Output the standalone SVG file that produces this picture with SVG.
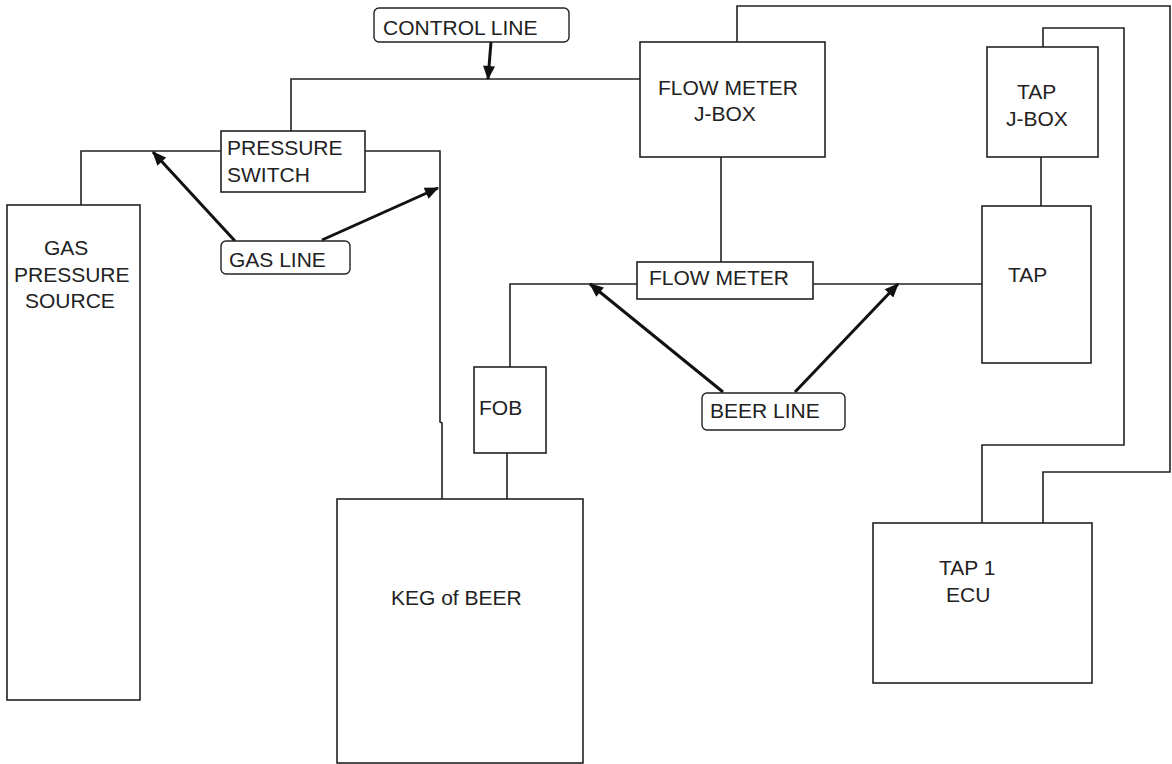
<svg xmlns="http://www.w3.org/2000/svg" width="1172" height="764" viewBox="0 0 1172 764">
<defs>
<style>
.box{fill:#fff;stroke:#222;stroke-width:1.6}
.rbox{fill:#fff;stroke:#222;stroke-width:1.4}
.wire{fill:none;stroke:#222;stroke-width:1.6}
.arr{fill:none;stroke:#111;stroke-width:3;marker-end:url(#ah)}
text{font-family:"Liberation Sans",Arial,sans-serif;font-size:21px;fill:#222}
</style>
<marker id="ah" viewBox="0 0 14 12" refX="13" refY="6" markerWidth="15" markerHeight="12" markerUnits="userSpaceOnUse" orient="auto">
<path d="M0,0 L14,6 L0,12 z" fill="#111"/>
</marker>
</defs>
<rect width="1172" height="764" fill="#fff"/>
<g id="connectors">
<polyline class="wire" points="291,131 291,79 640,79"/>
<polyline class="wire" points="81,205 81,151 221,151"/>
<polyline class="wire" points="365,151 440,151 440,422 442,423 442,499"/>
<polyline class="wire" points="737,42 737,6 1170,6 1170,472 1043,472 1043,523"/>
<polyline class="wire" points="1043,47 1043,28 1124,28 1124,445 982,445 982,523"/>
<line class="wire" x1="721" y1="157" x2="721" y2="262"/>
<line class="wire" x1="1041" y1="157" x2="1041" y2="206"/>
<polyline class="wire" points="507,453 507,499"/>
<polyline class="wire" points="510,367 510,284 637,284"/>
<line class="wire" x1="813" y1="284" x2="982" y2="284"/>
<line class="arr" x1="491" y1="42" x2="488" y2="79"/>
<line class="arr" x1="235" y1="241" x2="153" y2="152"/>
<line class="arr" x1="322" y1="240" x2="438" y2="188"/>
<line class="arr" x1="723" y1="392" x2="590" y2="284"/>
<line class="arr" x1="795" y1="392" x2="898" y2="284"/>
</g>
<g id="control-line">
<rect class="rbox" x="374" y="8" width="195" height="34" rx="5"/>
<text x="383" y="35">CONTROL LINE</text>
</g>
<g id="pressure-switch">
<rect class="box" x="221" y="131" width="144" height="61"/>
<text x="227" y="155">PRESSURE</text>
<text x="227" y="182">SWITCH</text>
</g>
<g id="gas-line">
<rect class="rbox" x="221" y="241" width="129" height="33" rx="5"/>
<text x="229" y="267">GAS LINE</text>
</g>
<g id="gas-source">
<rect class="box" x="7" y="205" width="133" height="495"/>
<text x="44" y="255">GAS</text>
<text x="14" y="282">PRESSURE</text>
<text x="25" y="308">SOURCE</text>
</g>
<g id="flow-meter-jbox">
<rect class="box" x="640" y="42" width="185" height="115"/>
<text x="658" y="95">FLOW METER</text>
<text x="694" y="121">J-BOX</text>
</g>
<g id="flow-meter">
<rect class="box" x="637" y="262" width="176" height="37"/>
<text x="649" y="285">FLOW METER</text>
</g>
<g id="beer-line">
<rect class="rbox" x="702" y="393" width="143" height="37" rx="5"/>
<text x="710" y="418">BEER LINE</text>
</g>
<g id="fob">
<rect class="box" x="474" y="367" width="72" height="86"/>
<text x="479" y="415">FOB</text>
</g>
<g id="keg">
<rect class="box" x="337" y="499" width="246" height="264"/>
<text x="391" y="605">KEG of BEER</text>
</g>
<g id="tap-jbox">
<rect class="box" x="987" y="47" width="111" height="110"/>
<text x="1017" y="99">TAP</text>
<text x="1006" y="126">J-BOX</text>
</g>
<g id="tap">
<rect class="box" x="982" y="206" width="109" height="157"/>
<text x="1008" y="282">TAP</text>
</g>
<g id="ecu">
<rect class="box" x="873" y="523" width="219" height="160"/>
<text x="939" y="575">TAP 1</text>
<text x="946" y="602">ECU</text>
</g>
</svg>
